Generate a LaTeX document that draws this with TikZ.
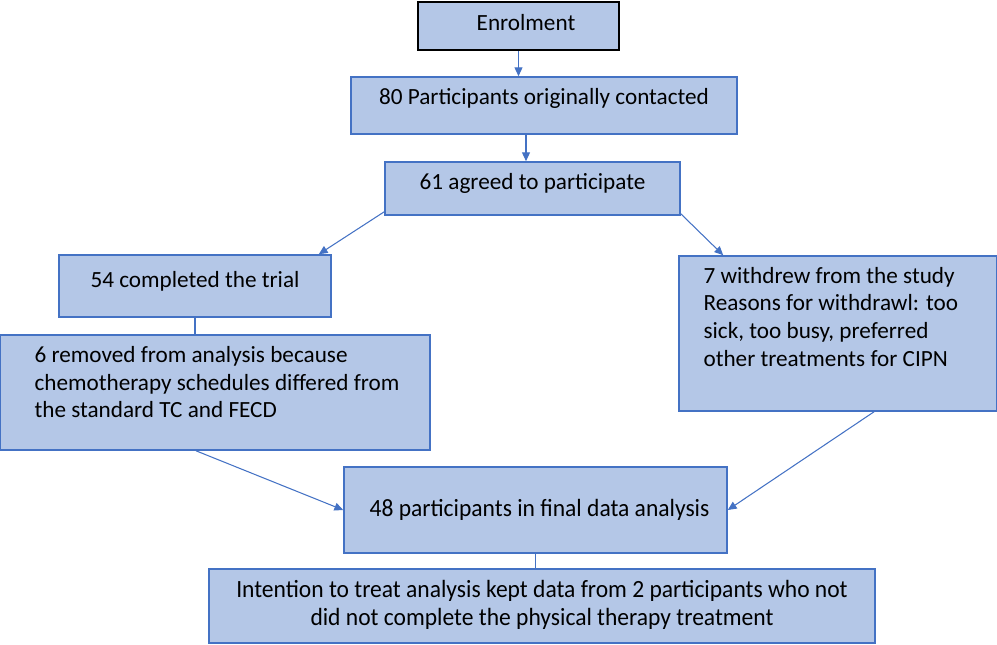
\documentclass[tikz,border=0pt]{standalone}
\usepackage{fontspec}
\setmainfont{Carlito}
\newfontfamily\narrowfont[FakeStretch=0.95]{Carlito}
\usepackage{tikz}
\definecolor{boxfill}{RGB}{180,199,231}
\definecolor{boxline}{RGB}{68,114,196}
\usetikzlibrary{arrows.meta}

\begin{document}
\begin{tikzpicture}[
    box/.style={rectangle, draw=boxline, fill=boxfill, line width=0.9pt},
    txt/.style={inner sep=0pt, anchor=center, font=\fontsize{13.2}{15.8}\selectfont},
    ltxt/.style={txt, anchor=west, align=left},
    ntxt/.style={txt, font=\narrowfont\fontsize{14.1}{15.9}\selectfont},
    arr/.style={-{Triangle[length=5pt,width=4.5pt]}, line width=0.6pt, color=boxline},
    link/.style={line width=0.6pt, color=boxline}
]
    \useasboundingbox (0,0) rectangle (19.94,-12.9);
    % flow boxes, text set near the top edge
    \node[box, draw=black, line width=1.4pt, minimum width=4.02cm, minimum height=0.96cm,
          label={[txt, xshift=0.15cm, yshift=-0.44cm]north:Enrolment}] (enrol) at (10.37,-0.52) {};
    \node[box, minimum width=7.72cm, minimum height=1.14cm,
          label={[txt, yshift=-0.44cm]north:80 Participants originally contacted}] (contact) at (10.88,-2.11) {};
    \node[box, minimum width=5.9cm, minimum height=1.06cm,
          label={[txt, yshift=-0.44cm]north:61 agreed to participate}] (agree) at (10.65,-3.77) {};
    \node[box, minimum width=5.44cm, minimum height=1.24cm,
          label={[txt, yshift=-0.54cm]north:54 completed the trial}] (done) at (3.9,-5.72) {};
    \node[box, minimum width=8.6cm, minimum height=2.3cm,
          label={[ltxt, xshift=0.7cm, yshift=-0.96cm]north west:{6 removed from analysis because\\chemotherapy schedules differed from\\the standard TC and FECD}}] (removed) at (4.3,-7.85) {};
    \node[box, minimum width=6.36cm, minimum height=3.1cm,
          label={[ltxt, xshift=0.5cm, yshift=-1.23cm]north west:{7 withdrew from the study\\Reasons for withdrawl: too\\sick, too busy, preferred\\other treatments for CIPN}}] (withdrew) at (16.76,-6.67) {};
    \node[box, minimum width=7.66cm, minimum height=1.72cm,
          label={[ntxt, xshift=0.08cm, yshift=-0.88cm]north:48 participants in final data analysis}] (final) at (10.71,-10.2) {};
    \node[box, minimum width=13.32cm, minimum height=1.48cm,
          label={[ntxt, align=center, yshift=-0.74cm]north:{Intention to treat analysis kept data from 2 participants who not\\did not complete the physical therapy treatment}}] (itt) at (10.84,-12.12) {};
    % connectors
    \draw[arr] (enrol.south) -- (enrol.south |- contact.north);
    \draw[arr] ([xshift=-0.36cm]contact.south) -- ([xshift=-0.36cm]contact.south |- agree.north);
    \draw[arr] ([yshift=0.08cm]agree.south west) -- ([xshift=-0.26cm]done.north east);
    \draw[arr] ([yshift=0.04cm]agree.south east) -- ([xshift=0.9cm]withdrew.north west);
    \draw[link] (done.south) -- (done.south |- removed.north);
    \draw[arr] ([xshift=-0.38cm]removed.south) -- (final.west);
    \draw[arr] ([xshift=0.72cm]withdrew.south) -- (final.east);
    \draw[link] (final.south) -- (final.south |- itt.north);
\end{tikzpicture}
\end{document}
